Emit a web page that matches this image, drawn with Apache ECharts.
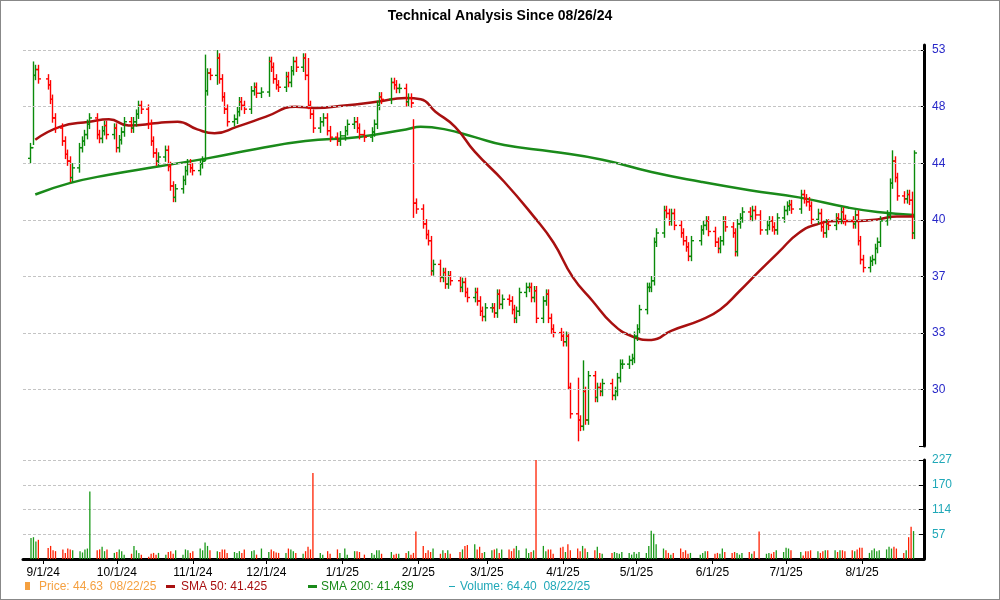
<!DOCTYPE html>
<html><head><meta charset="utf-8">
<script src="https://cdn.jsdelivr.net/npm/echarts@6/dist/echarts.min.js"></script>
<style>html,body{margin:0;padding:0;background:#fff}#c{width:1000px;height:600px;box-sizing:border-box;border:1px solid #888}</style>
</head><body><div id="c"></div>
<script>
// ---- data (closes per month, trading days in order) ----
const closeAug24 = [45.0, 50.8, 51.3, 50.5];
const closeSep24 = [50.0,48.8,47.3,46.5,45.5,44.5,44.0,42.8,43.5,45.0,45.5,46.0,46.8,47.3,46.0,45.7,46.3,46.7,46.0,46.5];
const closeOct24 = [45.0,45.6,46.2,47.0,46.5,47.0,47.6,48.3,48.0,46.8,45.5,44.6,44.0,44.3,44.8,43.6,42.2,41.4,42.0,42.6,43.3,43.8,43.5];
const closeNov24 = [43.3,43.8,44.0,49.5,51.0,50.8,52.3,50.5,49.0,48.0,47.0,47.2,47.8,48.6,48.3,48.0,49.5,49.8,49.3,49.4];
const closeDec24 = [52.0,51.5,50.5,50.0,49.8,50.7,50.2,51.2,52.0,51.5,52.3,50.8,48.3,47.6,46.5,47.0,47.3,46.3,45.8,45.5,45.9];
const closeJan25 = [46.3,46.8,47.0,46.5,46.0,45.8,46.2,46.8,48.3,49.0,48.8,50.2,50.0,49.7,49.7,48.6,48.9,48.5,41.0,40.6];
const closeFeb25 = [39.6,38.9,38.5,36.6,37.0,36.2,36.5,35.8,36.3,36.0,35.6,35.9,35.3,35.0,35.3,34.8,34.2,33.9,34.4];
const closeMar25 = [34.4,34.1,35.2,34.6,34.9,34.8,34.3,33.8,34.2,35.3,35.6,35.6,35.0,35.4,33.8,34.8,35.2,33.8,33.2,33.0,32.8];
const closeApr25 = [32.5,32.8,30.1,28.8,28.5,28.2,29.9,28.5,30.7,29.6,30.1,29.9,30.3,29.7,29.9,30.6,31.3,31.3,31.5,31.6,32.8];
const closeMay25 = [33.2,34.3,35.6,35.6,36.0,38.4,39.0,40.5,40.3,39.8,40.3,39.5,39.0,38.5,38.1,37.5,38.5,39.2,39.5,39.8,39.1];
const closeJun25 = [38.4,38.0,38.5,39.8,39.4,39.0,37.8,39.6,40.0,40.4,40.1,40.5,40.2,39.2,39.5,39.8,39.4,39.2,40.0,40.5];
const closeJul25 = [40.8,40.9,40.6,41.6,41.3,41.1,40.8,39.9,40.3,39.4,39.0,39.6,39.5,40.0,39.9,40.4,39.9,39.8,39.6,40.2,38.5,37.3];
const closeAug25 = [36.8,37.2,37.3,38.0,38.4,39.8,40.2,42.4,44.0,42.8,41.5,41.3,41.6,41.2,39.0,44.6];

const volAug24 = [48,50,40,44];
const volSep24 = [25,30,20,18,22,14,24,22,20,18,15,22,24,155,20,22,28,18,22,14];
const volOct24 = [16,22,18,10,12,30,20,14,10,5,12,14,10,14,10,16,18,12,20,10,22,20,14];
const volNov24 = [18,24,20,38,30,20,18,16,22,22,14,16,14,18,14,22,18,20,10,24];
const volDec24 = [16,22,18,15,14,14,24,22,18,14,12,18,28,22,197,14,10,18,12,22,14];
const volJan25 = [24,10,18,18,16,10,14,10,20,20,12,16,10,12,12,14,18,10,14,63];
const volFeb25 = [30,14,20,16,24,12,20,14,20,12,16,22,30,32,34,22,28,14,16];
const volMar25 = [20,22,24,14,22,22,18,24,30,20,24,14,16,20,227,30,18,22,22,12,26];
const volApr25 = [28,16,34,20,24,18,30,24,16,20,28,14,12,14,16,14,12,16,14,10,16];
const volMay25 = [12,16,14,30,65,58,34,24,20,14,10,14,24,16,20,12,14,10,14,18,18];
const volJun25 = [12,14,12,24,16,14,16,14,10,14,16,12,18,63,12,14,12,16,20,16];
const volJul25 = [26,24,20,16,8,18,18,20,18,14,18,20,20,20,16,20,20,18,20,18,22,26];
const volAug25 = [26,14,20,24,18,20,22,28,24,28,24,14,20,50,74,64];

// wide-range days: date -> [high, low]
const rangeOverrides = {
  '2024-08-28':[52.0,45.2], '2024-11-06':[52.6,44.0], '2024-11-11':[53.0,50.0],
  '2024-12-18':[52.3,48.0], '2025-01-30':[47.2,40.0], '2025-04-03':[33.0,30.0],
  '2025-04-07':[30.6,27.5], '2025-04-09':[31.5,28.0], '2025-08-13':[44.8,42.0],
  '2025-08-21':[41.8,38.6], '2025-08-22':[44.8,38.6]
};

const sma50Pts = [['2024-08-29',45.6],['2024-09-08',46.6],['2024-09-20',47.0],['2024-09-28',47.2],['2024-10-06',46.7],['2024-10-18',46.9],['2024-10-26',47.0],['2024-11-03',46.4],['2024-11-10',46.1],['2024-11-19',46.6],['2024-12-01',47.4],['2024-12-13',48.2],['2024-12-21',48.1],['2025-01-02',48.3],['2025-01-15',48.6],['2025-01-27',48.9],['2025-02-02',48.8],['2025-02-08',47.8],['2025-02-16',46.6],['2025-02-24',44.7],['2025-03-08',42.5],['2025-03-20',40.1],['2025-03-28',38.4],['2025-04-05',36.2],['2025-04-13',34.8],['2025-04-21',33.5],['2025-04-29',32.8],['2025-05-07',32.6],['2025-05-15',33.1],['2025-05-27',33.7],['2025-06-04',34.3],['2025-06-12',35.4],['2025-06-20',36.6],['2025-06-28',37.8],['2025-07-06',39.0],['2025-07-14',39.6],['2025-07-22',39.8],['2025-07-30',39.8],['2025-08-07',39.9],['2025-08-15',40.1],['2025-08-22',40.1]];
const sma200Pts = [['2024-08-29',41.6],['2024-09-12',42.4],['2024-09-28',43.0],['2024-10-18',43.6],['2024-11-07',44.2],['2024-11-27',44.9],['2024-12-17',45.5],['2025-01-07',45.8],['2025-01-27',46.4],['2025-02-02',46.6],['2025-02-12',46.4],['2025-02-24',45.8],['2025-03-08',45.2],['2025-03-28',44.7],['2025-04-17',44.1],['2025-05-07',43.2],['2025-05-27',42.5],['2025-06-16',41.9],['2025-07-06',41.4],['2025-07-26',40.7],['2025-08-07',40.4],['2025-08-22',40.2]];

const priceTickLabels = ['30','33','37','40','44','48','53'];
const volTickLabels = ['57','114','170','227'];
const holidays = ['2024-09-02','2024-11-28','2024-12-25','2025-01-01','2025-01-09','2025-01-20','2025-02-17','2025-04-18','2025-05-26','2025-06-19','2025-07-04'];

// ---- build ----
const closes = [].concat(closeAug24,closeSep24,closeOct24,closeNov24,closeDec24,closeJan25,closeFeb25,closeMar25,closeApr25,closeMay25,closeJun25,closeJul25,closeAug25);
const vols = [].concat(volAug24,volSep24,volOct24,volNov24,volDec24,volJan25,volFeb25,volMar25,volApr25,volMay25,volJun25,volJul25,volAug25);
function ds(d){return d.getFullYear()+'-'+String(d.getMonth()+1).padStart(2,'0')+'-'+String(d.getDate()).padStart(2,'0');}
const dates=[];
for(let d=new Date(2024,7,27); d<=new Date(2025,7,22); d.setDate(d.getDate()+1)){
  const w=d.getDay(); if(w===0||w===6) continue; const s=ds(d); if(holidays.includes(s)) continue; dates.push(s);
}
const R = Math.pow(53/30,1/6);
const T = p => Math.log(p/30)/Math.log(R);
function ts(s){const [y,m,d]=s.split('-').map(Number);return new Date(y,m-1,d).getTime();}
const ohlc=[], volData=[];
for(let i=0;i<closes.length;i++){
  const c=closes[i], o=i? closes[i-1]: 44.2;
  let h=Math.max(o,c)*1.008, l=Math.min(o,c)*0.992;
  const ov=rangeOverrides[dates[i]]; if(ov){h=ov[0];l=ov[1];}
  const up=c>=o;
  ohlc.push([ts(dates[i]),T(o),T(c),T(l),T(h),up?1:0]);
  volData.push({value:[ts(dates[i]),vols[i]],itemStyle:{color:up?'#1a9a1a':'#ff2000'}});
}
const xMin=ts('2024-08-24'), xMax=ts('2025-08-26');
const fmtDate=v=>{const d=new Date(v);return (d.getMonth()+1)+'/'+d.getDate()+'/'+String(d.getFullYear()).slice(2);};

const chart=echarts.init(document.getElementById('c'));
const axisFont={fontFamily:'Liberation Sans, Arial, sans-serif',fontSize:12};
const gridLine={color:'#c4c4c4',type:[3,2],width:1};
chart.setOption({
  animation:false,
  title:{text:'Technical Analysis Since 08/26/24',left:'center',top:3,textStyle:{fontSize:14,fontWeight:'bold',color:'#000',fontFamily:'Liberation Sans, Arial, sans-serif'}},
  grid:[{left:22,right:75,top:44,height:401},{left:22,right:75,top:459,height:99}],
  xAxis:[
    {type:'time',gridIndex:0,min:xMin,max:xMax,axisLine:{show:false},axisTick:{show:false},axisLabel:{show:false},splitLine:{show:false}},
    {type:'time',gridIndex:1,min:xMin,max:xMax,minInterval:28*864e5,maxInterval:31*864e5,
     axisLine:{lineStyle:{color:'#000',width:3}},axisTick:{show:true,length:5,lineStyle:{color:'#000'}},
     axisLabel:Object.assign({color:'#000',formatter:fmtDate,margin:8,showMinLabel:false,showMaxLabel:false},axisFont),splitLine:{show:false}}
  ],
  yAxis:[
    {type:'value',gridIndex:0,position:'right',min:-1,max:6.09,interval:1,
     axisLine:{show:true,lineStyle:{color:'#000',width:3}},axisTick:{show:true,inside:true,length:5,lineStyle:{color:'#000'}},
     axisLabel:Object.assign({color:'#2828c8',margin:8,formatter:v=>{const i=Math.round(v);return i>=0&&i<=6?priceTickLabels[i]:'';}},axisFont),
     splitLine:{show:false}},
    {type:'value',gridIndex:1,position:'right',min:0,max:227,interval:56.75,
     axisLine:{show:true,lineStyle:{color:'#000',width:3}},axisTick:{show:true,inside:true,length:5,lineStyle:{color:'#000'}},
     axisLabel:Object.assign({color:'#20a8b8',margin:8,formatter:v=>{const i=Math.round(v/56.75);return i>=1?volTickLabels[i-1]:'';}},axisFont),
     splitLine:{show:true,lineStyle:gridLine}}
  ],
  series:[
    {type:'line',xAxisIndex:0,yAxisIndex:0,data:sma200Pts.map(p=>[ts(p[0]),T(p[1])]),smooth:true,symbol:'none',
     lineStyle:{color:'#1a8a1a',width:2.5},z:3},
    {type:'line',xAxisIndex:0,yAxisIndex:0,data:sma50Pts.map(p=>[ts(p[0]),T(p[1])]),smooth:true,symbol:'none',
     lineStyle:{color:'#a81010',width:2.5},z:3,
     markLine:{silent:true,symbol:'none',label:{show:false},lineStyle:gridLine,
       data:[0,1,2,3,4,5,6].map(v=>({yAxis:v}))}},
    {type:'custom',xAxisIndex:0,yAxisIndex:0,z:4,data:ohlc,
     renderItem:(params,api)=>{
       const x=api.value(0);
       const po=api.coord([x,api.value(1)]), pc=api.coord([x,api.value(2)]), pl=api.coord([x,api.value(3)]), ph=api.coord([x,api.value(4)]);
       const col=api.value(5)?'#0a8a0a':'#ff0000'; const st={stroke:col,lineWidth:1.4};
       const cx=Math.round(po[0])+0.5;
       return {type:'group',children:[
         {type:'line',shape:{x1:cx,y1:ph[1],x2:cx,y2:pl[1]},style:st},
         {type:'line',shape:{x1:cx-2.5,y1:po[1],x2:cx,y2:po[1]},style:st},
         {type:'line',shape:{x1:cx,y1:pc[1],x2:cx+2.5,y2:pc[1]},style:st}]};
     }},
    {type:'bar',xAxisIndex:1,yAxisIndex:1,data:volData,barWidth:1.3}
  ],
  graphic:[
    {type:'rect',left:24,top:581,shape:{width:5,height:8},style:{fill:'#f5a040'}},
    {type:'text',left:38,top:580,style:{text:'Price: 44.63  08/22/25',fill:'#f5a040',font:'12px Liberation Sans, Arial'}},
    {type:'rect',left:165,top:584,shape:{width:9,height:3},style:{fill:'#a81010'}},
    {type:'text',left:180,top:580,style:{text:'SMA 50: 41.425',fill:'#a81010',font:'12px Liberation Sans, Arial'}},
    {type:'rect',left:307,top:584,shape:{width:9,height:3},style:{fill:'#1a8a1a'}},
    {type:'text',left:320,top:580,style:{text:'SMA 200: 41.439',fill:'#1a8a1a',font:'12px Liberation Sans, Arial'}},
    {type:'rect',left:448,top:585,shape:{width:6,height:1},style:{fill:'#20a8b8'}},
    {type:'text',left:459,top:580,style:{text:'Volume: 64.40  08/22/25',fill:'#20a8b8',font:'12px Liberation Sans, Arial'}}
  ]
});
</script></body></html>
